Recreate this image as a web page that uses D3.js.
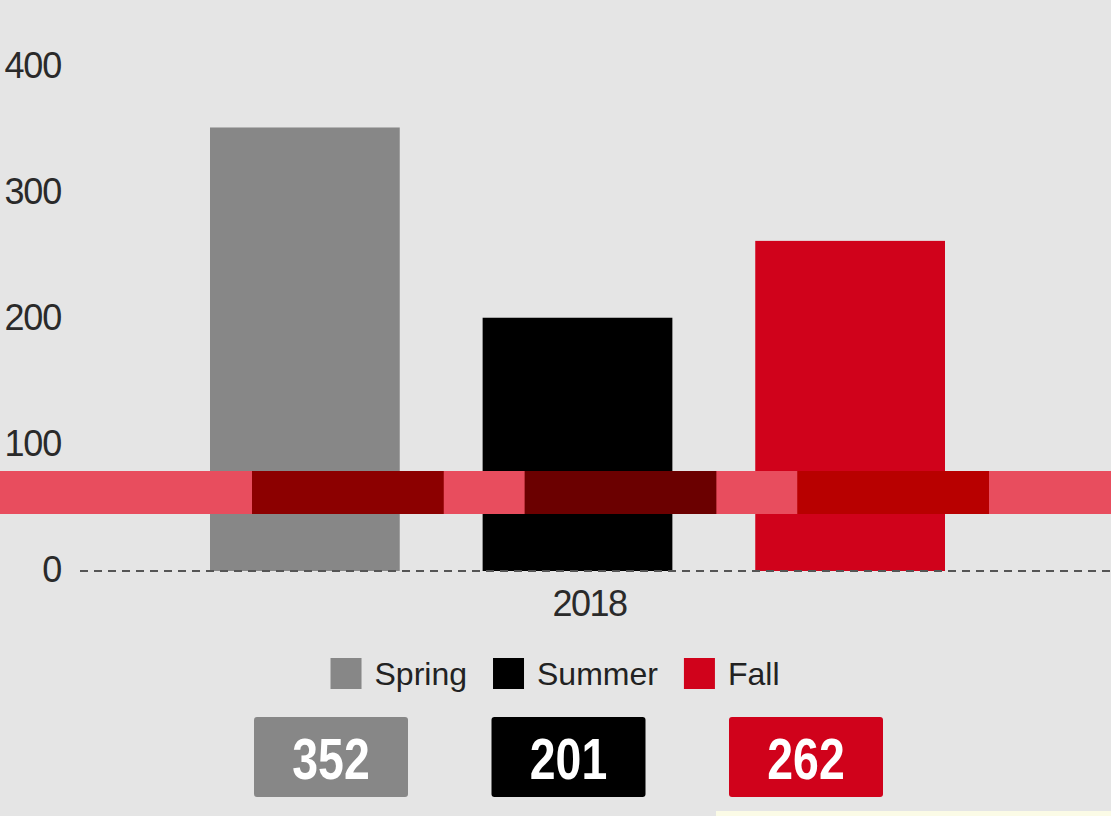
<!DOCTYPE html>
<html>
<head>
<meta charset="utf-8">
<script src="https://cdn.jsdelivr.net/npm/d3@7"></script>
<style>
  html, body { margin: 0; padding: 0; background: #e5e5e5; }
  svg { display: block; }
</style>
</head>
<body>
<svg id="chart" width="1111" height="816"></svg>
<script>
// ---- data ----
const categories = ["2018"];
const seriesNames = ["Spring", "Summer", "Fall"];
const seriesValues = [352, 201, 262];
const yTicks = [0, 100, 200, 300, 400];

// ---- styles ----
const seriesColors = ["#878787", "#000000", "#d0021b"];
const bandDarkColors = ["#8c0000", "#6b0000", "#b80000"];

const W = 1111, H = 816;
const svg = d3.select("#chart");
svg.append("rect").attr("width", W).attr("height", H).attr("fill", "#e5e5e5");

const y = d3.scaleLinear().domain([0, 400]).range([571, 67]);
const x0 = d3.scaleBand().domain(categories).range([68, 1111]);
const x1 = d3.scaleBand().domain(seriesNames).range([210, 945]).paddingInner(0.304);

// y tick labels
const yAxis = d3.axisLeft(y).tickValues(yTicks).tickSize(0).tickPadding(0);
const gy = svg.append("g").attr("transform", "translate(61,0)").call(yAxis);
gy.select(".domain").remove();
gy.selectAll("text")
  .attr("font-family", "Liberation Sans, Arial, sans-serif")
  .attr("font-size", 36)
  .attr("letter-spacing", "-1.2px")
  .attr("fill", "#2a2a2a")
  .attr("dy", "0.3em");

// bars
const rows = seriesNames.map((s, i) => ({ s, v: seriesValues[i], c: seriesColors[i], d: bandDarkColors[i] }));
svg.append("g").selectAll("rect").data(rows).join("rect")
  .attr("x", d => x1(d.s))
  .attr("width", x1.bandwidth())
  .attr("y", d => y(d.v))
  .attr("height", d => y(0) - y(d.v))
  .attr("fill", d => d.c);

// red overlay band
const bandTop = 471, bandH = 43, shift = 42;
svg.append("rect").attr("x", 0).attr("y", bandTop).attr("width", W).attr("height", bandH).attr("fill", "#e84d5e");
svg.append("g").selectAll("rect").data(rows).join("rect")
  .attr("x", d => x1(d.s) + shift)
  .attr("width", x1.bandwidth() + 2)
  .attr("y", bandTop)
  .attr("height", bandH)
  .attr("fill", d => d.d);

// x axis dashed baseline
svg.append("line")
  .attr("x1", 80).attr("x2", W)
  .attr("y1", y(0)).attr("y2", y(0))
  .attr("stroke", "#555").attr("stroke-width", 2)
  .attr("stroke-dasharray", "8,6");

// x tick label
const xAxis = d3.axisBottom(x0).tickSize(0).tickPadding(0);
const gx = svg.append("g").attr("transform", `translate(0,${y(0)})`).call(xAxis);
gx.select(".domain").remove();
gx.selectAll("text")
  .attr("font-family", "Liberation Sans, Arial, sans-serif")
  .attr("font-size", 36)
  .attr("letter-spacing", "-1.5px")
  .attr("fill", "#2a2a2a")
  .attr("dy", "1.25em");

// legend
const legend = svg.append("g");
let lx = 0;
rows.forEach((d, i) => {
  const g = legend.append("g");
  g.append("rect").attr("x", 0).attr("y", -16).attr("width", 31).attr("height", 31).attr("fill", d.c);
  const t = g.append("text").attr("x", 44).attr("y", 11)
    .attr("font-family", "Liberation Sans, Arial, sans-serif")
    .attr("font-size", 32).attr("fill", "#222").text(d.s);
  const w = 44 + t.node().getComputedTextLength();
  g.attr("transform", `translate(${lx},674)`);
  lx += w + 26;
});
const legW = lx - 26;
legend.attr("transform", `translate(${555 - legW / 2},0)`);

// value boxes
const xb = d3.scaleBand().domain(seriesNames).range([254, 883]).paddingInner(0.3516);
const boxes = svg.append("g").selectAll("g").data(rows).join("g")
  .attr("transform", d => `translate(${xb(d.s)},717)`);
boxes.append("rect").attr("width", xb.bandwidth()).attr("height", 80).attr("rx", 3).attr("fill", d => d.c);
boxes.append("text")
  .attr("transform", `translate(${xb.bandwidth() / 2},62) scale(0.8,1)`)
  .attr("text-anchor", "middle")
  .attr("font-family", "Liberation Sans Narrow, Arial Narrow, Liberation Sans, sans-serif")
  .attr("font-weight", "bold")
  .attr("font-size", 58)
  .attr("fill", "#ffffff")
  .text(d => d.v);

// bottom pale strip artifact
svg.append("rect").attr("x", 716).attr("y", 811).attr("width", W - 716).attr("height", 5).attr("fill", "#fbfbe6");
</script>
</body>
</html>
